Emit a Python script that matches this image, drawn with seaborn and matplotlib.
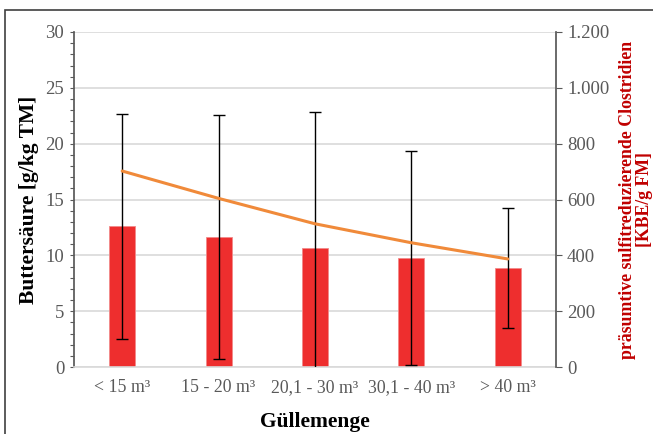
import numpy as np
import pandas as pd
import matplotlib
matplotlib.use("Agg")
import matplotlib.pyplot as plt
from matplotlib.ticker import FuncFormatter, MultipleLocator
from matplotlib.patches import Rectangle
import seaborn as sns

# data
categories = ["< 15 m³", "15 - 20 m³", "20,1 - 30 m³", "30,1 - 40 m³", "> 40 m³"]
buttersaeure = [12.6, 11.65, 10.7, 9.75, 8.85]
buttersaeure_sd = [10.1, 10.9, 12.1, 9.55, 5.4]
clostridien = [702, 604, 513, 445, 387]

sns.set_theme(style="white")
plt.rcParams["font.family"] = ["Liberation Serif", "DejaVu Serif"]

grey = "#595959"
df = pd.DataFrame({"Menge": categories, "Buttersaeure": buttersaeure})

fig = plt.figure(figsize=(6.53, 4.34), dpi=100)
ax = fig.add_axes([74 / 653, 1 - 367 / 434, (556 - 74) / 653, (367 - 32) / 434])

sns.barplot(data=df, x="Menge", y="Buttersaeure", color="#EE2E2E", width=0.27,
            saturation=1, edgecolor="#F28A8A", linewidth=0.6, ax=ax, zorder=2)
ax.errorbar(range(len(categories)), buttersaeure, yerr=buttersaeure_sd, fmt="none",
            ecolor="black", elinewidth=1, capsize=4.5, capthick=1, zorder=3)

ax.set_ylim(0, 30)
ax.set_xlim(-0.5, 4.5)
ax.yaxis.set_major_locator(MultipleLocator(5))
ax.yaxis.set_minor_locator(MultipleLocator(1))
ax.grid(axis="y", which="major", color="#D9D9D9", linewidth=1.2, zorder=0)
ax.set_axisbelow(True)
ax.tick_params(axis="y", which="both", direction="out", length=3, width=0.8,
               color=grey, left=True, labelsize=13.5, labelcolor=grey, pad=4)
ax.tick_params(axis="x", length=0, labelsize=12.8, labelcolor=grey, pad=9)
for side in ["top", "right"]:
    ax.spines[side].set_visible(False)
ax.spines["left"].set_color(grey)
ax.spines["bottom"].set_color("#D9D9D9")
ax.spines["bottom"].set_linewidth(1.2)
ax.set_ylabel("Buttersäure [g/kg TM]", fontsize=15.5, fontweight="bold", color="black", labelpad=5)
ax.set_xlabel("Güllemenge", fontsize=15.5, fontweight="bold", color="black", labelpad=11)

ax2 = ax.twinx()
sns.lineplot(x=list(range(len(categories))), y=clostridien, color="#F08A3A",
             linewidth=2.2, ax=ax2, zorder=4)
ax2.set_ylim(0, 1200)
ax2.yaxis.set_major_locator(MultipleLocator(200))
ax2.yaxis.set_major_formatter(FuncFormatter(lambda v, p: f"{int(v):,}".replace(",", ".")))
ax2.tick_params(axis="y", direction="out", length=4, width=0.8, color=grey, right=True,
                labelsize=13.5, labelcolor=grey, pad=4)
for side in ["top", "left", "bottom"]:
    ax2.spines[side].set_visible(False)
ax2.spines["right"].set_color(grey)
ax2.set_ylabel("präsumtive sulfitreduzierende Clostridien\n[KBE/g FM]", fontsize=12.8,
               fontweight="bold", color="#C00000", labelpad=7, linespacing=1.0)

# outer frame of the original figure
fig.patches.append(Rectangle((5 / 653, -0.1), 1.2, 1.1 - 10 / 434, transform=fig.transFigure,
                             fill=False, edgecolor="#404040", linewidth=1.2))

fig.savefig("out.png", dpi=100)
